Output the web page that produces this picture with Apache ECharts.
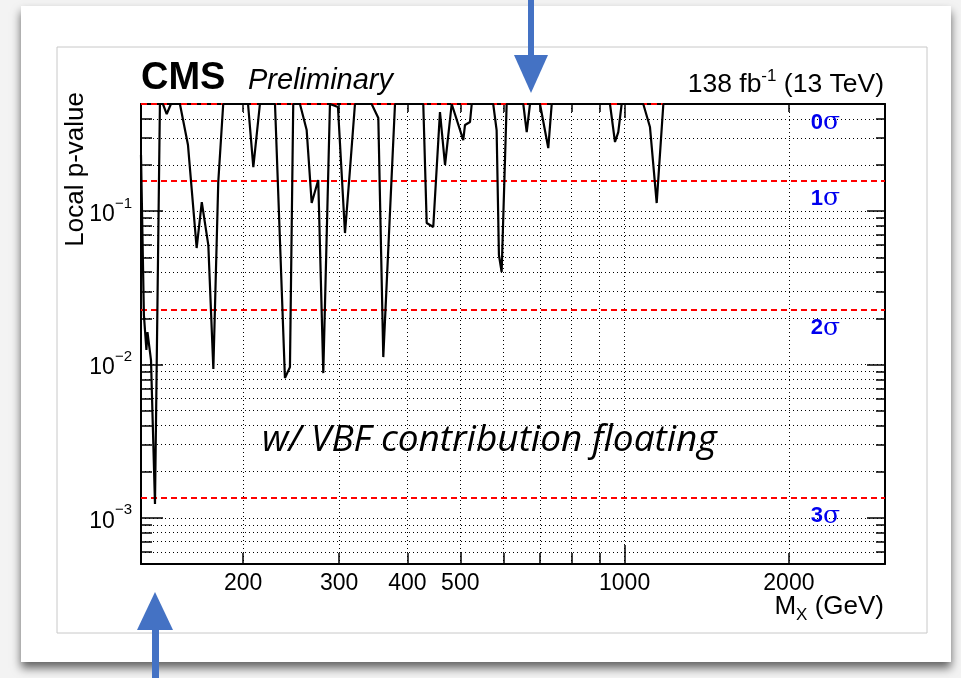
<!DOCTYPE html>
<html><head><meta charset="utf-8">
<script src="https://cdn.jsdelivr.net/npm/echarts@6/dist/echarts.min.js"></script>
<style>html,body{margin:0;padding:0;background:#f3f3f3;} #c{width:961px;height:678px;}</style>
</head><body><div id="c"></div>
<script>
// ---- data ----
const massGeV = [130,131.6,133.0,133.6,135.6,137.9,140.8,142.6,144.9,147.5,153.2,158.5,164.4,168.0,172.7,176.4,180.1,183.9,204.2,208.8,214.7,228.8,238.6,243.7,247.1,254.2,261.5,267.1,274.6,280.5,288.5,298.4,307.4,313.9,320.6,344.0,353.8,361.3,379.6,427.7,433.9,446.1,458.9,468.8,482.2,506.3,510.0,520.9,524.7,574.5,582.8,588.5,595.3,608.0,652.2,661.7,670.9,699.8,724.7,735.3,940.2,960.3,973.7,987.7,1082,1113,1145,1177.6,3000];
const localPValue = [0.2325,0.0210,0.01243,0.01628,0.01069,0.00123,0.5,0.5,0.430,0.5,0.5,0.270,0.0575,0.1147,0.0601,0.00934,0.155,0.5,0.5,0.194,0.5,0.5,0.00816,0.00962,0.5,0.5,0.338,0.113,0.1597,0.00879,0.5,0.478,0.072,0.1856,0.5,0.5,0.405,0.01118,0.5,0.5,0.0837,0.0788,0.443,0.2,0.5,0.291,0.365,0.3815,0.5,0.5,0.338,0.0518,0.0401,0.5,0.5,0.328,0.5,0.5,0.258,0.5,0.5,0.2825,0.328,0.5,0.5,0.354,0.113,0.5,0.5];
const xTickValues = [200,300,400,500,600,700,800,900,1000,2000];
const xLabelValues = [200,300,400,500,1000,2000];
const xDecadeValues = [1000];
const yMajorValues = [0.001,0.01,0.1];
const yAllValues = [0.0006,0.0007,0.0008,0.0009,0.001,0.002,0.003,0.004,0.005,0.006,0.007,0.008,0.009,0.01,0.02,0.03,0.04,0.05,0.06,0.07,0.08,0.09,0.1,0.2,0.3,0.4];
const sigmaLevels = ['0','1','2','3'];
const sigmaPValues = [0.5,0.1587,0.02275,0.00135];
const xRange = [130,3000];
const yRange = [0.0005,0.5];

const chart = echarts.init(document.getElementById('c'), null, {renderer:'canvas'});
const F = '"Liberation Sans", Arial, Helvetica, sans-serif';
const frame = {show:true, onZero:false, lineStyle:{color:'#000', width:2}};
const noLine = {show:false};
const dotted = {show:true, lineStyle:{color:'#000', width:1, type:[1,3]}};

function xAx(pos, ticks, len, extra) {
  return Object.assign({type:'log', logBase:10, min:xRange[0], max:xRange[1], position:pos,
    axisLine: noLine, axisTick:{show:true, inside:true, length:len, customValues:ticks, lineStyle:{color:'#000', width:1.5}},
    axisLabel:{show:false}, splitLine:{show:false}, minorTick:{show:false}, minorSplitLine:{show:false}}, extra||{});
}
function yAx(pos, ticks, len, extra) {
  return Object.assign({type:'log', logBase:10, min:yRange[0], max:yRange[1], position:pos,
    axisLine: noLine, axisTick:{show:true, inside:true, length:len, customValues:ticks, lineStyle:{color:'#000', width:1.5}},
    axisLabel:{show:false}, splitLine:{show:false}, minorTick:{show:false}, minorSplitLine:{show:false}}, extra||{});
}

const data = massGeV.map((m,i)=>[m, localPValue[i]]);

const option = {
  animation:false,
  backgroundColor:'transparent',
  grid:{left:141, top:104, width:744, height:460, show:false},
  xAxis:[
    xAx('bottom', xTickValues, 11, {axisLine:frame,
      axisLabel:{show:true, customValues:xLabelValues, formatter:v=>String(Math.round(v)), fontSize:23, color:'#000', fontFamily:F, margin:8},
      splitLine:dotted}),
    xAx('bottom', xDecadeValues, 19),
    xAx('top', xTickValues, 8, {axisLine:frame}),
    xAx('top', xDecadeValues, 14)
  ],
  yAxis:[
    yAx('left', yAllValues, 11, {axisLine:frame, splitLine:dotted}),
    yAx('left', yMajorValues, 22, {axisLabel:{show:true, customValues:yMajorValues, margin:9,
      formatter:v=>'{b|10}{e|\u2212'+Math.abs(Math.round(Math.log10(v)))+'}',
      rich:{b:{fontSize:23, fontFamily:F, color:'#000', lineHeight:30, verticalAlign:'bottom'}, e:{fontSize:15, fontFamily:F, color:'#000', verticalAlign:'top', lineHeight:30}}}}),
    yAx('right', yAllValues, 9, {axisLine:frame}),
    yAx('right', yMajorValues, 18)
  ],
  series:[{
    type:'line', xAxisIndex:0, yAxisIndex:0, data:data, showSymbol:false, symbol:'none',
    lineStyle:{color:'#000', width:2.2}, z:5, clip:true,
    markLine:{silent:true, symbol:['none','none'], z:4, precision:8,
      lineStyle:{color:'#ff0000', type:[6,4], width:2},
      label:{show:true, position:'insideEndBottom', distance:6, padding:[0,39,0,0],
        rich:{n:{fontSize:22, fontWeight:'bold', color:'#0000ee', fontFamily:F}, s:{fontSize:25, fontWeight:'normal', color:'#0000ee', fontFamily:'"DejaVu Serif", "Liberation Serif", serif'}}},
      data: sigmaPValues.map((p,i)=>({yAxis:p, label:{formatter:'{n|'+sigmaLevels[i]+'}{s|\u03c3}'}}))
    }
  }],
  graphic:[
    {type:'rect', z:-20, shape:{x:21, y:6, width:930, height:656}, style:{fill:'#fff', shadowBlur:9, shadowColor:'rgba(0,0,0,0.6)', shadowOffsetY:6}},
    {type:'rect', z:-19, shape:{x:57, y:47, width:870, height:586}, style:{fill:'none', stroke:'#c8c8c8', lineWidth:1}},
    {type:'text', x:141, y:79, style:{text:'CMS', font:'bold 38px '+F, fill:'#000', align:'left', verticalAlign:'middle'}},
    {type:'text', x:248, y:81, style:{text:'Preliminary', font:'italic 29px '+F, fill:'#000', align:'left', verticalAlign:'middle'}},
    {type:'text', x:884, y:83, style:{text:'{a|138 fb}{e|-1}{a| (13 TeV)}', align:'right', verticalAlign:'middle',
      rich:{a:{fontSize:26.5, fontFamily:F, color:'#000', lineHeight:30, verticalAlign:'bottom'}, e:{fontSize:17, fontFamily:F, color:'#000', lineHeight:30, verticalAlign:'top'}}}},
    {type:'text', x:76, y:92, rotation:Math.PI/2, style:{text:'Local p-value', font:'26px '+F, fill:'#000', align:'right', verticalAlign:'middle'}},
    {type:'text', x:884, y:609, style:{text:'{m|M}{s|X}{m| (GeV)}', align:'right', verticalAlign:'middle',
      rich:{m:{fontSize:26, fontFamily:F, color:'#000', lineHeight:30, verticalAlign:'top'}, s:{fontSize:17, fontFamily:F, color:'#000', lineHeight:30, verticalAlign:'bottom'}}}},
    {type:'text', x:262, y:440, z:10, style:{text:'w/ VBF contribution floating', font:'italic 37px "Open Sans", sans-serif', fill:'#000', align:'left', verticalAlign:'middle'}},
    {type:'rect', z:50, shape:{x:528, y:0, width:6, height:60}, style:{fill:'#4472c4'}},
    {type:'polygon', z:50, shape:{points:[[514,55],[548,55],[531,93]]}, style:{fill:'#4472c4'}},
    {type:'rect', z:50, shape:{x:152, y:625, width:7, height:53}, style:{fill:'#4472c4'}},
    {type:'polygon', z:50, shape:{points:[[137,630],[173,630],[155,592]]}, style:{fill:'#4472c4'}}
  ]
};
chart.setOption(option);
</script></body></html>
